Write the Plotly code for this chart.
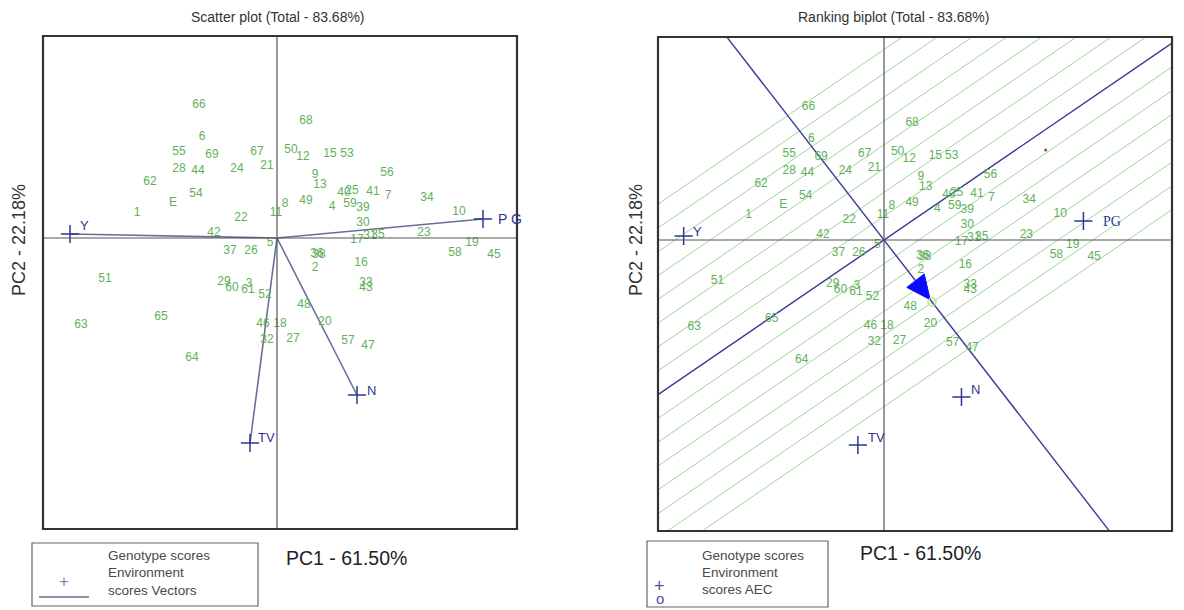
import plotly.graph_objects as go
import numpy as np

# ---------------- data ----------------
geno_labels = ["1","2","3","4","5","6","7","8","9","10","11","12","13","15","16","17","18","19","20",
               "21","22","23","24","25","26","27","28","29","30","31","32","33","34","35","36","37","38",
               "39","40","41","42","43","44","45","46","47","48","49","50","51","52","53","54","55","56",
               "57","58","59","60","61","62","63","64","65","66","67","68","69","E"]
geno_pc1 = [-1.40,0.38,-0.28,0.55,-0.07,-0.75,1.11,0.08,0.38,1.82,-0.01,0.26,0.43,0.53,0.84,0.80,0.03,1.95,0.48,
            -0.10,-0.36,1.47,-0.40,0.75,-0.26,0.16,-0.98,-0.53,0.86,0.93,-0.10,0.89,1.50,1.01,0.40,-0.47,0.42,
            0.86,0.67,0.96,-0.63,0.89,-0.79,2.17,-0.14,0.91,0.27,0.29,0.14,-1.72,-0.12,0.70,-0.81,-0.98,1.10,
            0.71,1.78,0.73,-0.45,-0.29,-1.27,-1.96,-0.85,-1.16,-0.78,-0.20,0.29,-0.65,-1.04]
geno_pc2 = [0.25,-0.30,-0.46,0.31,-0.05,1.01,0.42,0.34,0.63,0.26,0.25,0.81,0.53,0.84,-0.25,-0.02,-0.86,-0.05,-0.84,
            0.72,0.20,0.05,0.69,0.47,-0.13,-1.01,0.69,-0.44,0.15,0.02,-1.02,-0.45,0.40,0.03,-0.16,-0.13,-0.17,
            0.30,0.45,0.46,0.05,-0.50,0.67,-0.17,-0.86,-1.08,-0.67,0.37,0.88,-0.41,-0.57,0.84,0.44,0.86,0.65,
            -1.03,-0.15,0.34,-0.50,-0.52,0.56,-0.87,-1.20,-0.79,1.33,0.86,1.17,0.83,0.35]

env_labels = ["Y", "P G", "TV", "N"]
env_pc1 = [-2.07, 2.06, -0.27, 0.80]
env_pc2 = [0.04, 0.19, -2.05, -1.57]

aec_point = [0.496, -0.62]          # average-environment circle
aec_abscissa_dir = [1.0, 0.662]     # direction of the AEC abscissa
aec_line_offsets = [-7, -6, -5, -4, -3, -2, -1, 0, 1, 2, 3, 4, 5, 6, 7, 8]
aec_line_step = 0.238
red_dot = [1.67, 0.90]

# ---------------- layout geometry ----------------
OFF = 8                      # page body margin
W, H = 1184 - OFF, 610 - OFF
L_px = (43, 517, 36, 529)      # left, right, top, bottom (screen pixels)
R_px = (658, 1172, 37, 531)
L_xr = [-2.34, 2.40]; L_yr = [-2.91, 2.02]
R_xr = [-2.335, 2.975]; R_yr = [-2.91, 2.03]

def px(x):
    return (x - OFF) / W

def py(y):
    return 1 - (y - OFF) / H

def dom(p):
    return [px(p[0]), px(p[1])], [py(p[3]), py(p[2])]

Lxd, Lyd = dom(L_px)
Rxd, Ryd = dom(R_px)

GREEN = "#62b05a"
NAVY = "#2f3592"
VEC = "#6b6f96"
FONT = "Arial, Liberation Sans, sans-serif"

fig = go.Figure()

# ---------- left panel ----------
for i in range(len(env_labels)):
    fig.add_trace(go.Scatter(x=[0, env_pc1[i]], y=[0, env_pc2[i]], mode="lines",
                             line=dict(color=VEC, width=1.6), xaxis="x", yaxis="y",
                             showlegend=False, hoverinfo="skip"))
fig.add_trace(go.Scatter(x=geno_pc1, y=geno_pc2, text=geno_labels, mode="text",
                         textfont=dict(color=GREEN, size=12, family=FONT),
                         xaxis="x", yaxis="y", showlegend=False))
fig.add_trace(go.Scatter(x=env_pc1, y=env_pc2, mode="markers",
                         marker=dict(symbol="cross-thin", size=13, line=dict(color=NAVY, width=1.5)),
                         xaxis="x", yaxis="y", showlegend=False))

# ---------- right panel ----------
ax, ay = aec_abscissa_dir
m_abs = ay / ax
big = 20
for k in aec_line_offsets:
    c = k * aec_line_step
    fig.add_trace(go.Scatter(x=[-big, big], y=[m_abs * -big + c, m_abs * big + c], mode="lines",
                             line=dict(color="#9fd69a", width=1), xaxis="x2", yaxis="y2",
                             showlegend=False, hoverinfo="skip"))
fig.add_trace(go.Scatter(x=[-big, big], y=[-big * m_abs, big * m_abs], mode="lines",
                         line=dict(color="#3b3b9c", width=1.4), xaxis="x2", yaxis="y2",
                         showlegend=False, hoverinfo="skip"))
m_ord = aec_point[1] / aec_point[0]
fig.add_trace(go.Scatter(x=[-big, big], y=[-big * m_ord, big * m_ord], mode="lines",
                         line=dict(color="#3b3b9c", width=1.4), xaxis="x2", yaxis="y2",
                         showlegend=False, hoverinfo="skip"))

fig.add_trace(go.Scatter(x=geno_pc1, y=geno_pc2, text=geno_labels, mode="text",
                         textfont=dict(color=GREEN, size=12, family=FONT),
                         xaxis="x2", yaxis="y2", showlegend=False))
fig.add_trace(go.Scatter(x=env_pc1, y=env_pc2, mode="markers",
                         marker=dict(symbol="cross-thin", size=13, line=dict(color=NAVY, width=1.5)),
                         xaxis="x2", yaxis="y2", showlegend=False))

# arrow head (computed in screen-pixel units, converted back to data)
sxr = (R_px[1] - R_px[0]) / (R_xr[1] - R_xr[0])
syr = (R_px[3] - R_px[2]) / (R_yr[1] - R_yr[0])
tip_px = np.array([aec_point[0] * sxr, -aec_point[1] * syr])
u = tip_px / np.linalg.norm(tip_px)
p = np.array([u[1], -u[0]])
tip = tip_px - 3 * u
base = tip - 24 * u
v1 = base + 11 * p
v2 = base - 11 * p
tri = [tip, v1, v2, tip]
fig.add_trace(go.Scatter(x=[q[0] / sxr for q in tri], y=[-q[1] / syr for q in tri], mode="lines",
                         fill="toself", fillcolor="#0a0aff", line=dict(color="#0a0aff", width=1),
                         xaxis="x2", yaxis="y2", showlegend=False, hoverinfo="skip"))
fig.add_trace(go.Scatter(x=[aec_point[0]], y=[aec_point[1]], mode="markers",
                         marker=dict(symbol="circle-open", size=8, line=dict(color="#3535b0", width=1.5)),
                         xaxis="x2", yaxis="y2", showlegend=False))
fig.add_trace(go.Scatter(x=[red_dot[0]], y=[red_dot[1]], mode="markers",
                         marker=dict(symbol="circle", size=3, color="#d03030"),
                         xaxis="x2", yaxis="y2", showlegend=False))

# ---------- shapes ----------
shapes = []
for xr, yr in (("x", "y"), ("x2", "y2")):
    shapes.append(dict(type="line", xref=xr, yref=yr + " domain", x0=0, x1=0, y0=0, y1=1,
                       line=dict(color="#555555", width=1.2)))
    shapes.append(dict(type="line", xref=xr + " domain", yref=yr, x0=0, x1=1, y0=0, y1=0,
                       line=dict(color="#555555", width=1.2)))
    shapes.append(dict(type="rect", xref=xr + " domain", yref=yr + " domain", x0=0, x1=1, y0=0, y1=1,
                       line=dict(color="#333333", width=2.2)))

def pbox(x0, y0, x1, y1):
    return dict(type="rect", xref="paper", yref="paper", x0=px(x0), x1=px(x1),
                y0=py(y1), y1=py(y0), line=dict(color="#666666", width=1.2))

shapes.append(pbox(32, 543, 258, 606))
shapes.append(pbox(647, 541, 828, 607))
shapes.append(dict(type="line", xref="paper", yref="paper", x0=px(39), x1=px(89),
                   y0=py(597), y1=py(597), line=dict(color=VEC, width=1.3)))

# ---------- annotations ----------
ann = []

def pann(text, x, y, size, color="#333333", xanchor="center", textangle=0, family=FONT):
    ann.append(dict(text=text, x=px(x), y=py(y), xref="paper", yref="paper", showarrow=False,
                    xanchor=xanchor, yanchor="middle", textangle=textangle,
                    font=dict(size=size, color=color, family=family)))

pann("Scatter plot (Total - 83.68%)", 278, 17, 14)
pann("Ranking biplot (Total - 83.68%)", 893, 17, 14)
pann("PC2 - 22.18%", 19, 240, 18, textangle=-90)
pann("PC2 - 22.18%", 636, 240, 18, textangle=-90)
pann("PC1 - 61.50%", 346, 558, 19.5, color="#222222")
pann("PC1 - 61.50%", 920, 553, 19.5, color="#222222")
for txt, yy in (("Genotype scores", 555), ("Environment", 572), ("scores Vectors", 590)):
    pann(txt, 106, yy, 13.5, color="#4a4a4a", xanchor="left")
for txt, yy in (("Genotype scores", 555), ("Environment", 572), ("scores AEC", 589)):
    pann(txt, 700, yy, 13.5, color="#4a4a4a", xanchor="left")
pann("+", 64, 581, 17, color="#8a8ab0")
pann("+", 660, 586, 18, color="#5b4b9c")
pann("o", 660, 598, 15, color="#5b4b9c")

left_off = {"Y": (14, -8), "P G": (27, 0), "TV": (16, -6), "N": (14, -5)}
right_off = {"Y": (14, -5), "P G": (29, 0), "TV": (19, -8), "N": (14, -8)}
for i, lab in enumerate(env_labels):
    dx, dy = left_off[lab]
    ann.append(dict(text=lab, x=env_pc1[i], y=env_pc2[i], xref="x", yref="y", showarrow=False,
                    xshift=dx, yshift=-dy, font=dict(size=14 if lab == "P G" else 13, color=NAVY, family=FONT)))
    dx, dy = right_off[lab]
    ann.append(dict(text=lab.replace(" ", "") if lab == "P G" else lab, x=env_pc1[i], y=env_pc2[i],
                    xref="x2", yref="y2", showarrow=False, xshift=dx, yshift=-dy,
                    font=dict(size=14 if lab == "P G" else 13, color=NAVY,
                              family="Liberation Serif, serif" if lab == "P G" else FONT)))

axis_common = dict(showgrid=False, zeroline=False, showticklabels=False, ticks="", showline=False)
fig.update_layout(
    width=W, height=H, margin=dict(l=0, r=0, t=0, b=0),
    paper_bgcolor="white", plot_bgcolor="white",
    xaxis=dict(domain=Lxd, range=L_xr, anchor="y", **axis_common),
    yaxis=dict(domain=Lyd, range=L_yr, anchor="x", **axis_common),
    xaxis2=dict(domain=Rxd, range=R_xr, anchor="y2", **axis_common),
    yaxis2=dict(domain=Ryd, range=R_yr, anchor="x2", **axis_common),
    shapes=shapes, annotations=ann, showlegend=False,
)
fig.write_html("out.html")
